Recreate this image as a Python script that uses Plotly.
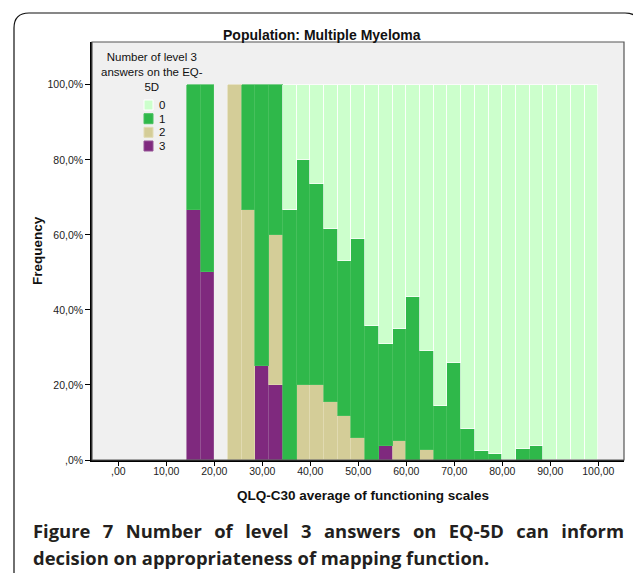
import plotly.graph_objects as go

# ---- data: share (%) of patients per QLQ-C30 bin, split by number of level-3 EQ-5D answers
n_bins = 30
bin_width = 100 / 35          # histogram bin width on the QLQ-C30 scale
first_edge = 5 * bin_width     # first non-empty bin starts at ~14.29

pct_level3 = [66.7, 50.0, 0, 0, 0, 25.0, 20.0, 0, 0, 0,
              0, 0, 0, 0, 3.7, 0, 0, 0, 0, 0,
              0, 0, 0, 0, 0, 0, 0, 0, 0, 0]
pct_level2 = [0, 0, 0, 100.0, 66.7, 0, 40.0, 0, 20.0, 20.0,
              15.4, 11.8, 5.9, 0, 0, 5.0, 0, 2.6, 0, 0,
              0, 0, 0, 0, 0, 0, 0, 0, 0, 0]
pct_level1 = [33.3, 50.0, 0, 0, 33.3, 75.0, 40.0, 66.7, 60.0, 53.5,
              46.1, 41.2, 53.0, 35.7, 27.1, 30.0, 43.4, 26.4, 14.4, 25.8,
              8.3, 2.5, 1.6, 0, 2.9, 3.6, 0, 0, 0, 0]
pct_level0 = [0, 0, 0, 0, 0, 0, 0, 33.3, 20.0, 26.5,
              38.5, 47.0, 41.1, 64.3, 69.2, 65.0, 56.6, 71.0, 85.6, 74.2,
              91.7, 97.5, 98.4, 100.0, 97.1, 96.4, 100.0, 100.0, 100.0, 100.0]

categories = ["0", "1", "2", "3"]
x_tickvals = [0, 10, 20, 30, 40, 50, 60, 70, 80, 90, 100]
x_ticktext = [",00", "10,00", "20,00", "30,00", "40,00", "50,00",
              "60,00", "70,00", "80,00", "90,00", "100,00"]
y_tickvals = [0, 20, 40, 60, 80, 100]
y_ticktext = [",0%", "20,0%", "40,0%", "60,0%", "80,0%", "100,0%"]

# ---- styling
colors = {"0": "#ccffcc", "1": "#2fb84a", "2": "#d4cd98", "3": "#7f297e"}
edges = {"0": "#ffffff", "1": "#48c05e", "2": "#e2dcb4", "3": "#965596"}
series = {"3": pct_level3, "2": pct_level2, "1": pct_level1, "0": pct_level0}

W, H = 633, 573
L, R, T, B = 92, 9, 42, 113
X0, X1, Y1, Y0 = L, W - R, T, H - B


def px(x):
    return (x - X0) / (X1 - X0)


def py(y):
    return (Y0 - y) / (Y0 - Y1)


centers = [first_edge + bin_width * (i + 0.5) for i in range(n_bins)]

fig = go.Figure()
for cat in ["3", "2", "1", "0"]:
    vals = [v if v > 0 else None for v in series[cat]]
    fig.add_trace(go.Bar(
        x=centers, y=vals, width=bin_width, name=cat,
        marker=dict(color=colors[cat], line=dict(color=edges[cat], width=0.7)),
        showlegend=False, hoverinfo="skip",
    ))

axis_font = dict(family="Liberation Sans, Arial", size=10.5, color="#222222")
fig.update_layout(
    width=W, height=H,
    margin=dict(l=L, r=R, t=T, b=B, pad=0),
    paper_bgcolor="white", plot_bgcolor="#f0f0f0",
    barmode="stack", bargap=0,
    xaxis=dict(range=[-5.48, 105.35], tickvals=x_tickvals, ticktext=x_ticktext,
               ticks="outside", ticklen=4, tickcolor="black", tickwidth=1,
               ticklabelstandoff=-3,
               showline=True, linecolor="black", linewidth=1.5,
               showgrid=False, zeroline=False, tickfont=axis_font, fixedrange=True),
    yaxis=dict(range=[0, 111.4], tickvals=y_tickvals, ticktext=y_ticktext,
               ticks="outside", ticklen=5, tickcolor="black", tickwidth=1,
               showline=True, linecolor="black", linewidth=1.5,
               showgrid=False, zeroline=False, tickfont=axis_font, fixedrange=True),
)

shapes = []
# plot frame (top / right edges)
shapes.append(dict(type="rect", xref="paper", yref="paper", x0=0, x1=1, y0=0, y1=1,
                   line=dict(color="#555555", width=1.2), layer="above"))
# outer rounded frame of the figure panel
fx0, fx1, fy0, fy1, rr = 14, 640, 13, 580, 15
frame_path = (f"M {px(fx0)},{py(fy1)} L {px(fx0)},{py(fy0 + rr)} "
              f"Q {px(fx0)},{py(fy0)} {px(fx0 + rr)},{py(fy0)} "
              f"L {px(fx1 - rr)},{py(fy0)} Q {px(fx1)},{py(fy0)} {px(fx1)},{py(fy0 + rr)} "
              f"L {px(fx1)},{py(fy1)}")
shapes.append(dict(type="path", xref="paper", yref="paper", path=frame_path,
                   line=dict(color="#111111", width=1.2)))

annotations = []


def label(text, x, y, font, xanchor="center", **kw):
    annotations.append(dict(text=text, x=px(x), y=py(y), xref="paper", yref="paper",
                            xanchor=xanchor, yanchor="middle", showarrow=False,
                            font=font, **kw))


# chart title and axis titles
title_font = dict(family="Liberation Sans, Arial", size=14, color="#111111")
label("<b>Population: Multiple Myeloma</b>", 322, 35, title_font)
label("<b>Frequency</b>", 37, 251, dict(title_font, size=13.5), textangle=-90)
label("<b>QLQ-C30 average of functioning scales</b>", 363, 495, dict(title_font, size=13.5))

# legend block
legend_font = dict(family="Liberation Sans, Arial", size=11.5, color="#111111")
label("Number of level 3<br>answers on the EQ-<br>5D", 152, 72.5, legend_font, align="center")
row_y = [105, 118.7, 132.3, 146]
for cat, yy in zip(categories, row_y):
    shapes.append(dict(type="rect", xref="paper", yref="paper",
                       x0=px(144), x1=px(153), y0=py(yy + 5), y1=py(yy - 5),
                       fillcolor=colors[cat], line=dict(color=edges[cat], width=1)))
    label(cat, 157, yy, legend_font, xanchor="left")

# figure caption (first line justified with wider word gaps)
cap_font = dict(family="Open Sans", size=18.4, color="#231f20", weight=700)
gap = " \u2005\u2006"
line1 = gap.join(["<b>Figure", "7</b>", "Number", "of", "level", "3", "answers",
                  "on", "EQ-5D", "can", "inform"])
label(line1, 31, 530, cap_font, xanchor="left")
label("decision on appropriateness of mapping function.", 31, 557, cap_font, xanchor="left")

fig.update_layout(shapes=shapes, annotations=annotations)
fig.write_html("out.html")
